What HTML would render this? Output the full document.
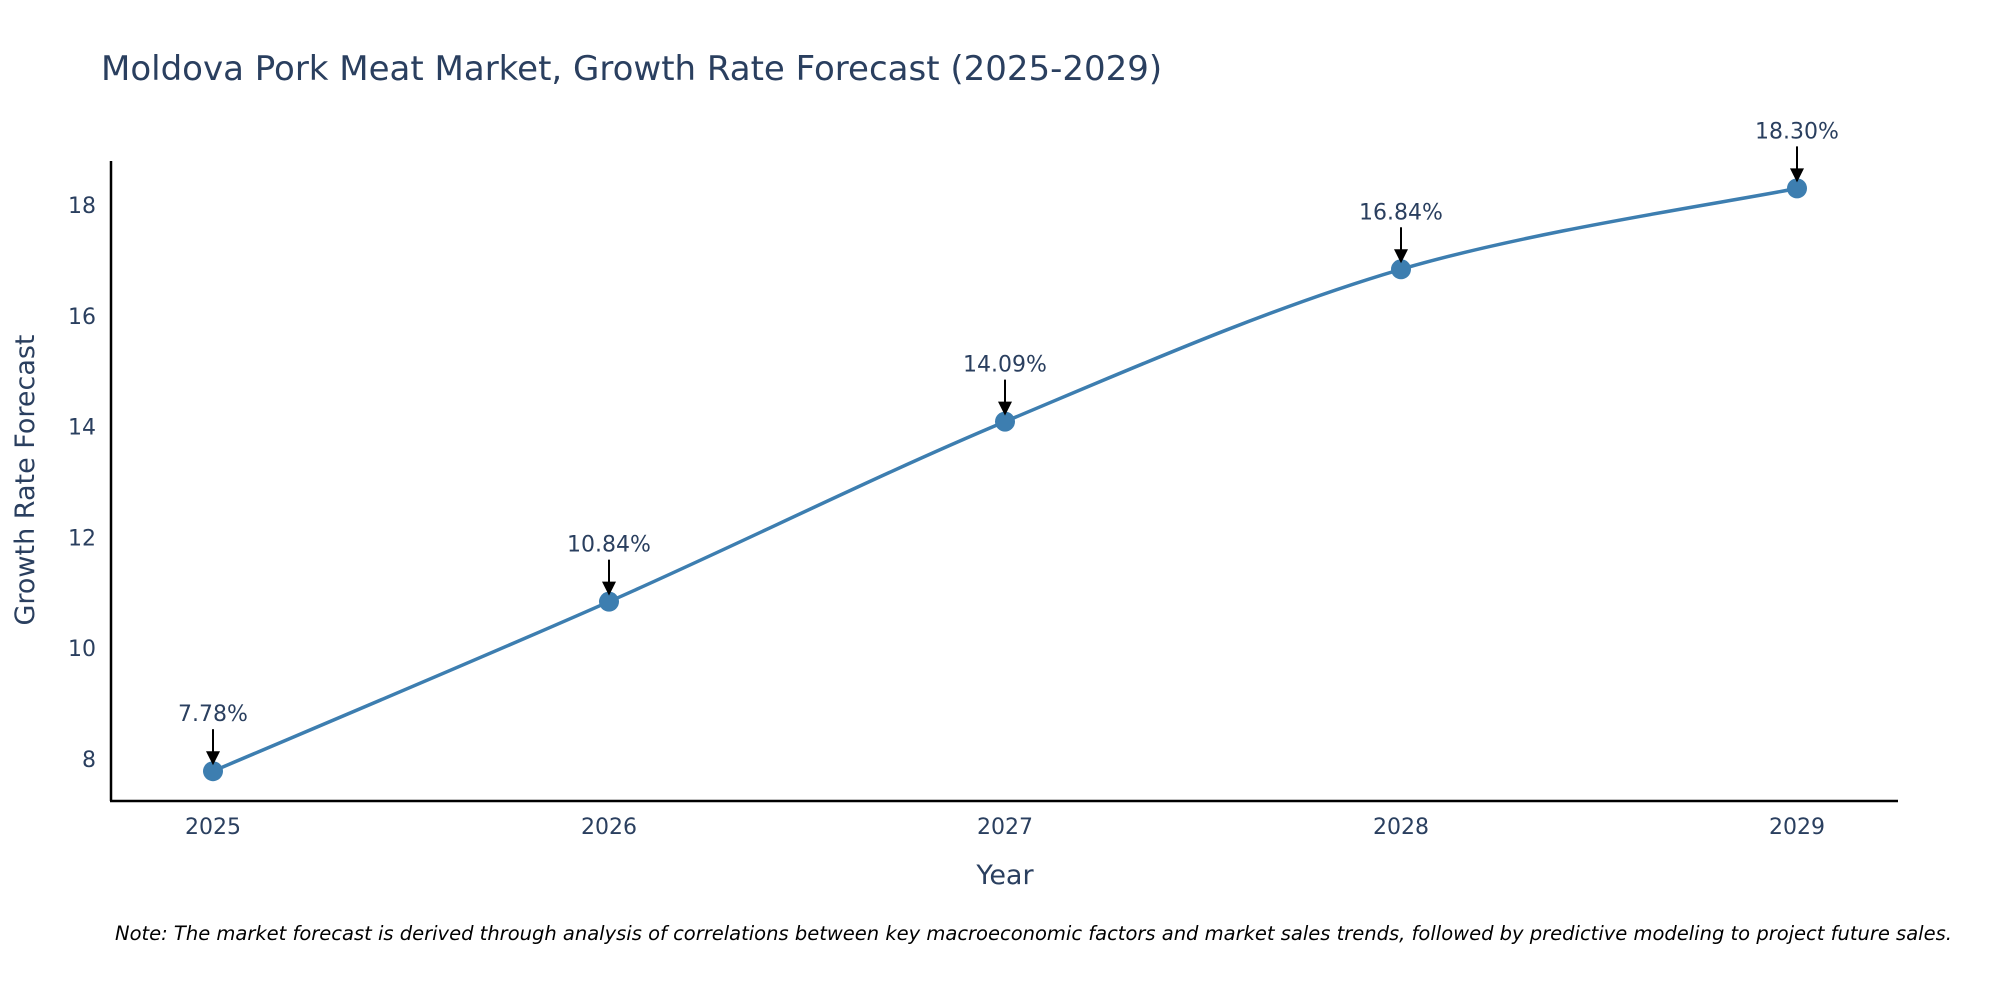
<!DOCTYPE html>
<html><head><meta charset="utf-8"><style>
body{margin:0;background:#fff;}
svg text{font-family:"DejaVu Sans","Liberation Sans",sans-serif;fill:#2a3f5f;}
</style></head><body>
<svg id="chart" width="2000" height="1000" viewBox="0 0 2000 1000" xmlns="http://www.w3.org/2000/svg">
<rect width="2000" height="1000" fill="#fff"/>
<text x="101" y="80" font-size="34">Moldova Pork Meat Market, Growth Rate Forecast (2025-2029)</text>
<g id="axes"></g>
<g id="series"></g>
<text transform="translate(34,480) rotate(-90)" text-anchor="middle" font-size="27">Growth Rate Forecast</text>
<text x="1005" y="884" text-anchor="middle" font-size="27">Year</text>
<text x="115" y="940" font-size="19.5" font-style="italic" style="fill:#000">Note: The market forecast is derived through analysis of correlations between key macroeconomic factors and market sales trends, followed by predictive modeling to project future sales.</text>
</svg>
<script>
const years = [2025, 2026, 2027, 2028, 2029];
const growth = [7.78, 10.84, 14.09, 16.84, 18.30];
const labels = ["7.78%", "10.84%", "14.09%", "16.84%", "18.30%"];
const yTicks = [8, 10, 12, 14, 16, 18];

const NS = "http://www.w3.org/2000/svg";
const xScale = v => 213 + (v - 2025) * (1797 - 213) / 4;
const yScale = v => 759 - (v - 8) * (759 - 205) / 10;
function mk(tag, attrs, parent){const e=document.createElementNS(NS,tag);for(const k in attrs)e.setAttribute(k,attrs[k]);parent.appendChild(e);return e;}
const axes=document.getElementById('axes'), ser=document.getElementById('series');

const yl=mk('line',{x1:111,y1:161,x2:111,y2:801,stroke:'#000','stroke-width':2.5},axes);


const xl=mk('line',{x1:110,y1:801,x2:1898,y2:801,stroke:'#000','stroke-width':2.5},axes);



yTicks.forEach(t=>{
  const tx=mk('text',{x:96,y:yScale(t)+8,'text-anchor':'end','font-size':22},axes);
  tx.textContent=t;
  
  
});
years.forEach(y=>{
  const tx=mk('text',{x:xScale(y),y:834,'text-anchor':'middle','font-size':22},axes);
  tx.textContent=y;
  
  
});

const pts=years.map((y,i)=>[xScale(y),yScale(growth[i])]);
let d=`M${pts[0][0]},${pts[0][1]}`;
const tension=0.5;
for(let i=0;i<pts.length-1;i++){
  const p0=pts[Math.max(0,i-1)],p1=pts[i],p2=pts[i+1],p3=pts[Math.min(pts.length-1,i+2)];
  const c1=[p1[0]+(p2[0]-p0[0])*tension/3,p1[1]+(p2[1]-p0[1])*tension/3];
  const c2=[p2[0]-(p3[0]-p1[0])*tension/3,p2[1]-(p3[1]-p1[1])*tension/3];
  d+=` C${c1[0]},${c1[1]} ${c2[0]},${c2[1]} ${p2[0]},${p2[1]}`;
}
const line=mk('path',{d:d,fill:'none',stroke:'#3d7eb0','stroke-width':3.5},ser);



pts.forEach((p,i)=>{
  const c=mk('circle',{cx:p[0],cy:p[1],r:10,fill:'#3d7eb0'},ser);
  
  
  const a=mk('line',{x1:p[0],y1:p[1]-42,x2:p[0],y2:p[1]-18,stroke:'#000','stroke-width':2},ser);
  
  
  const h=mk('polygon',{points:`${p[0]-7},${p[1]-20} ${p[0]+7},${p[1]-20} ${p[0]},${p[1]-6}`,fill:'#000'},ser);
  
  
  const t=mk('text',{x:p[0],y:p[1]-50,'text-anchor':'middle','font-size':22},ser);
  t.textContent=labels[i];
  
  
});
</script>
</body></html>
